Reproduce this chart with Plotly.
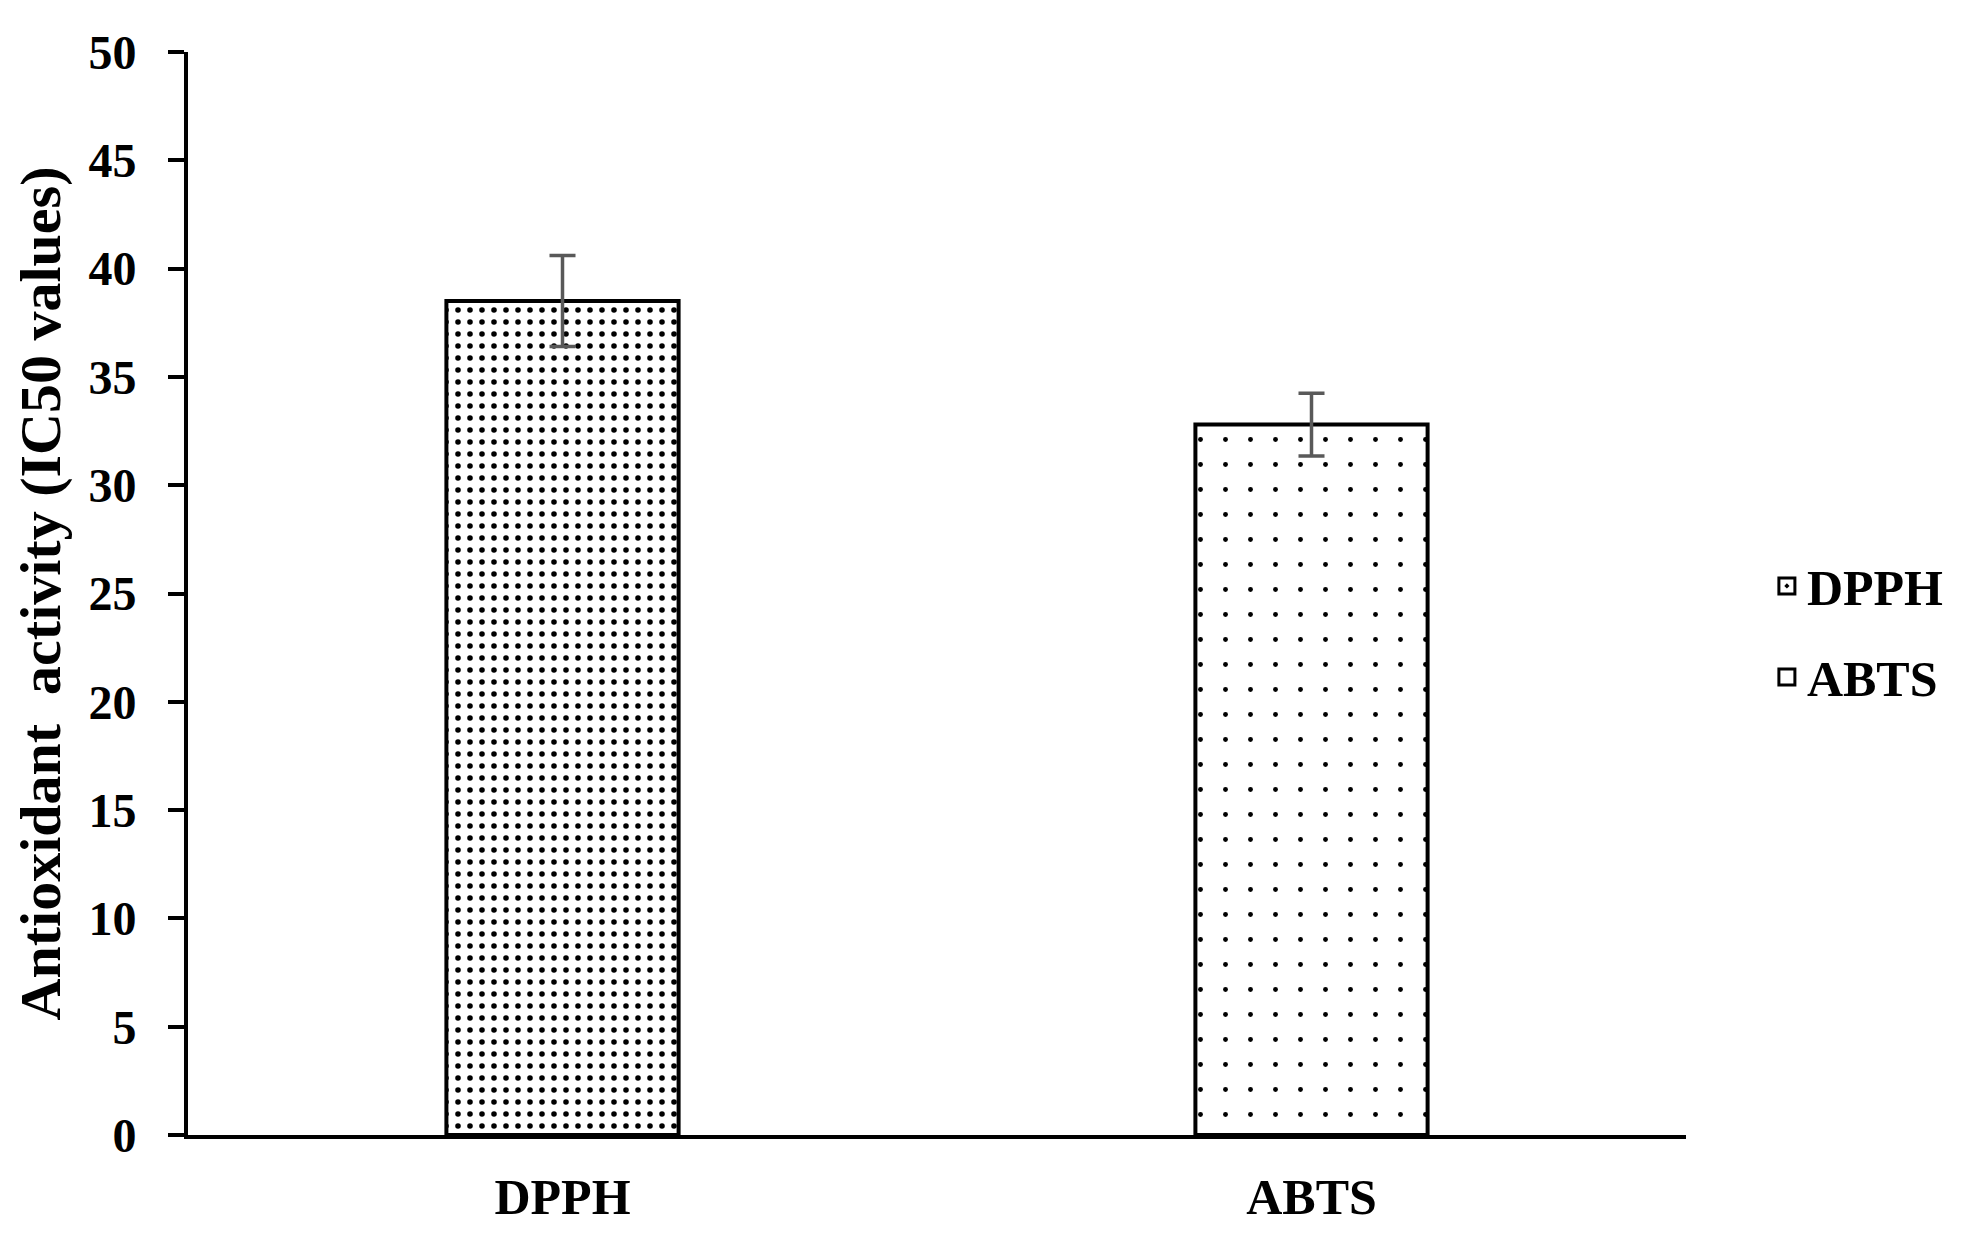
import plotly.graph_objects as go

# IC50 values
assays = ["DPPH", "ABTS"]
ic50 = [38.5, 32.8]
ic50_err = [2.1, 1.45]

# dot pattern per bar (DPPH dense, ABTS sparse)
dot_size = [12, 25]
dot_solidity = [0.17, 0.03]

font_family = "Liberation Serif"

fig = go.Figure()

fig.add_trace(go.Bar(
    x=assays,
    y=ic50,
    width=0.31,
    showlegend=False,
    marker=dict(
        color="white",
        line=dict(color="black", width=4),
        pattern=dict(
            shape=".",
            fgcolor="black",
            bgcolor="white",
            fillmode="replace",
            size=dot_size,
            solidity=dot_solidity,
        ),
    ),
    error_y=dict(
        type="data",
        array=ic50_err,
        visible=True,
        color="#595959",
        thickness=3.5,
        width=13,
    ),
))

# legend entries (square symbols like the original)
legend_symbols = ["square-dot", "square"]
for name, sym in zip(assays, legend_symbols):
    fig.add_trace(go.Scatter(
        x=[None], y=[None],
        mode="markers",
        name=name,
        legendgroup=name,
        marker=dict(symbol=sym, size=16, color="white",
                    line=dict(color="black", width=3)),
    ))

# page body adds an 8px margin, so the figure is sized to fit inside it
fig.update_layout(
    width=1956,
    height=1225,
    plot_bgcolor="white",
    paper_bgcolor="white",
    font=dict(family=font_family, size=46, color="black", weight="bold"),
    margin=dict(l=180, r=278, t=44, b=98),
    legend=dict(
        x=1.054, xanchor="left",
        y=0.465, yanchor="middle",
        font=dict(size=50, family=font_family, weight="bold"),
        tracegroupgap=23,
        traceorder="grouped",
        itemsizing="trace",
        itemwidth=30,
    ),
)

fig.update_xaxes(
    automargin=False,
    showline=True, linecolor="black", linewidth=4,
    ticks="", showgrid=False,
    tickfont=dict(size=50, family=font_family, weight="bold"),
    ticklabelstandoff=15,
)

fig.update_yaxes(
    automargin=False,
    range=[0, 50], dtick=5,
    showline=True, linecolor="black", linewidth=4,
    ticks="outside", ticklen=16, tickwidth=4, tickcolor="black",
    showgrid=False, zeroline=False,
    ticklabelstandoff=22,
    tickfont=dict(size=48, family=font_family, weight="bold"),
    title=dict(
        text="Antioxidant  activity (IC50 values)",
        font=dict(size=58, family=font_family, weight="bold"),
        standoff=12,
    ),
)

fig.write_html("out.html")
